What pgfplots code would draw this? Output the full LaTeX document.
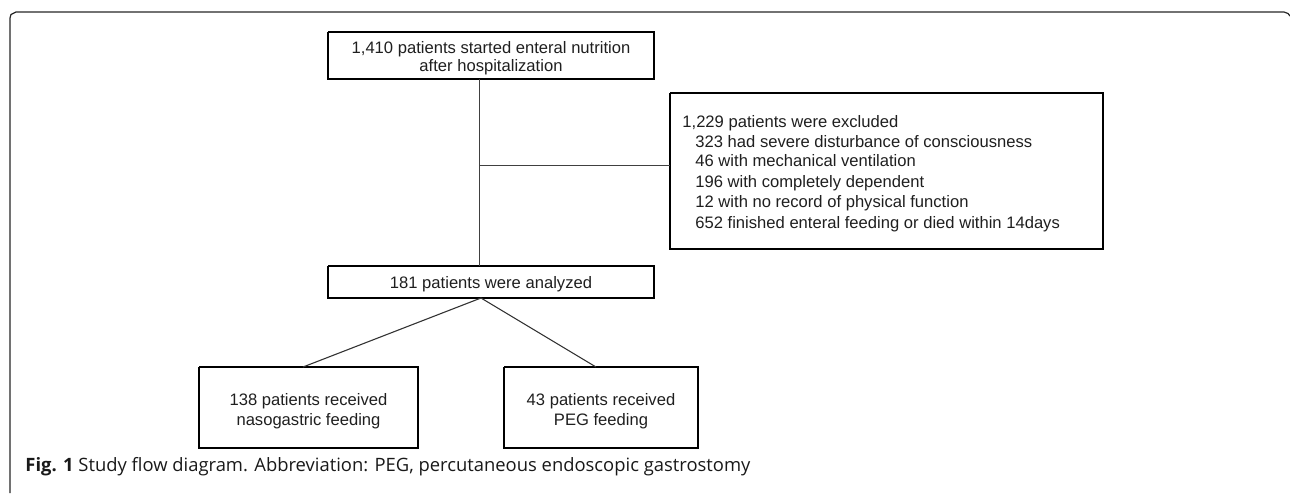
\documentclass[border=0pt]{standalone}
\usepackage{pgfplots}
\pgfplotsset{compat=1.18}
\usepackage{fontspec}
\setmainfont{Liberation Sans}
\newfontfamily\capfont{Open Sans}
\tikzset{bx/.style={inner sep=0pt, font=\fontsize{8.3}{10}\selectfont, text=black!88}}
\begin{document}
\begin{tikzpicture}
\begin{axis}[
  scale only axis, width=645pt, height=246.5pt,
  xmin=0, xmax=1290, ymin=0, ymax=493, y dir=reverse,
  hide axis, clip=false,
]
% outer frame
\addplot[black!85, line width=0.6pt, no marks] coordinates {(10,493) (10,18) (11,14.5) (16,12) (1284,12) (1288,13.5) (1290,16)};
% boxes
\addplot[black, line width=1.1pt, no marks] coordinates {(328,32) (654,32) (654,79) (328,79) (328,32)};
\addplot[black, line width=1.1pt, no marks] coordinates {(670,93) (1103,93) (1103,249) (670,249) (670,93)};
\addplot[black, line width=1.1pt, no marks] coordinates {(328,266) (654,266) (654,298) (328,298) (328,266)};
\addplot[black, line width=0.9pt, no marks] coordinates {(199,367) (418,367) (418,448) (199,448) (199,367)};
\addplot[black, line width=0.9pt, no marks] coordinates {(504,367) (698,367) (698,448) (504,448) (504,367)};
% connectors
\addplot[black!75, line width=0.5pt, no marks] coordinates {(479,79) (479,266)};
\addplot[black!75, line width=0.5pt, no marks] coordinates {(479,165) (670,165)};
\addplot[black!80, line width=0.55pt, no marks] coordinates {(303,367) (481,298) (596,367)};
% texts
\node[bx, anchor=mid] at (axis cs:491,48.3) {1,410 patients started enteral nutrition};
\node[bx, anchor=mid] at (axis cs:491,66.7) {after hospitalization};
\node[bx, anchor=mid west] at (axis cs:682,122.7) {1,229 patients were excluded};
\node[bx, anchor=mid west] at (axis cs:695,142.3) {323 had severe disturbance of consciousness};
\node[bx, anchor=mid west] at (axis cs:695,161.7) {46 with mechanical ventilation};
\node[bx, anchor=mid west] at (axis cs:695,182.3) {196 with completely dependent};
\node[bx, anchor=mid west] at (axis cs:695,202.7) {12 with no record of physical function};
\node[bx, anchor=mid west] at (axis cs:695,223.3) {652 finished enteral feeding or died within 14days};
\node[bx, anchor=mid] at (axis cs:491,283.3) {181 patients were analyzed};
\node[bx, anchor=mid] at (axis cs:308.5,400) {138 patients received};
\node[bx, anchor=mid] at (axis cs:308.5,420) {nasogastric feeding};
\node[bx, anchor=mid] at (axis cs:601,400) {43 patients received};
\node[bx, anchor=mid] at (axis cs:601,420) {PEG feeding};
\node[inner sep=0pt, anchor=mid west, font=\capfont\fontsize{9.2}{11}\selectfont, text=black!90] at (axis cs:25,466.7) {\textbf{Fig. 1} Study flow diagram. Abbreviation: PEG, percutaneous endoscopic gastrostomy};
\end{axis}
\pgfresetboundingbox
\path[use as bounding box] (0,0) rectangle (645pt,246.5pt);
\end{tikzpicture}
\end{document}
